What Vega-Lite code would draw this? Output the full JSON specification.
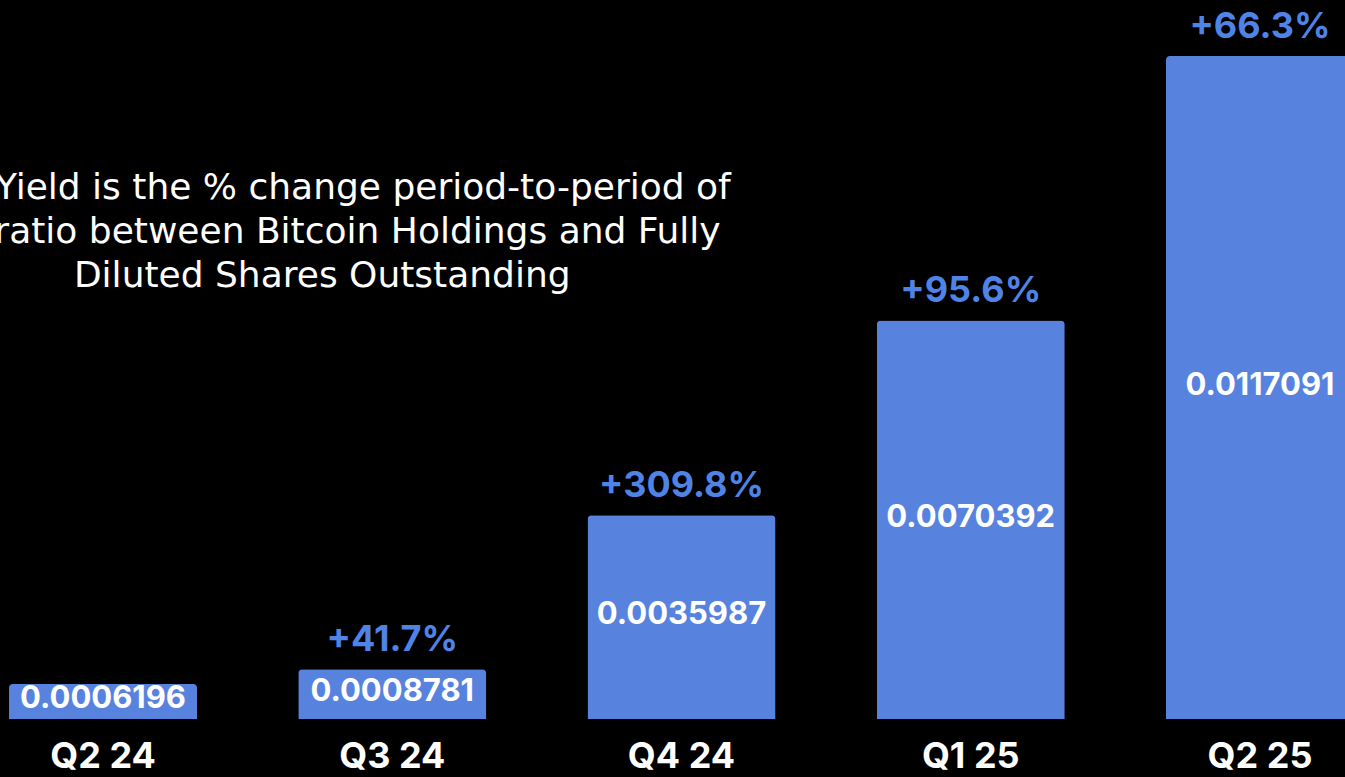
{
  "$schema": "https://vega.github.io/schema/vega-lite/v6.json",
  "width": 1345,
  "height": 719,
  "autosize": {"type": "none"},
  "padding": {"left": 0, "top": 0, "right": 0, "bottom": 58},
  "background": "#000000",
  "config": {"view": {"stroke": null}, "font": "Inter"},
  "data": {"values": [
    {"quarter": "Q2 24", "value": 0.0006196, "change": null},
    {"quarter": "Q3 24", "value": 0.0008781, "change": 0.417},
    {"quarter": "Q4 24", "value": 0.0035987, "change": 3.098},
    {"quarter": "Q1 25", "value": 0.0070392, "change": 0.956},
    {"quarter": "Q2 25", "value": 0.0117091, "change": 0.663}
  ]},
  "encoding": {
    "x": {
      "field": "quarter", "type": "nominal", "sort": null,
      "scale": {"range": [-41.6, 1404.6], "paddingInner": 0.35, "paddingOuter": 0.175},
      "axis": {"title": null, "domain": false, "ticks": false, "labelAngle": 0, "labelColor": "#ffffff", "labelFontSize": 36, "labelFontWeight": "bold", "labelPadding": 20, "labelFont": "Inter"}
    }
  },
  "layer": [
    {
      "mark": {"type": "bar", "color": "#5783df", "cornerRadiusTopLeft": 4, "cornerRadiusTopRight": 4},
      "encoding": {
        "y": {"field": "value", "type": "quantitative", "scale": {"domain": [0, 0.0127], "nice": false}, "axis": null}
      }
    },
    {
      "transform": [{"calculate": "datum.value / 2", "as": "mid"}],
      "mark": {"type": "text", "color": "#ffffff", "fontSize": 31, "fontWeight": "bold", "baseline": "middle", "dy": -2},
      "encoding": {
        "y": {"field": "mid", "type": "quantitative"},
        "text": {"field": "value", "type": "quantitative", "format": ".7f"}
      }
    },
    {
      "transform": [{"filter": "datum.change != null"}],
      "mark": {"type": "text", "color": "#4f83e6", "fontSize": 36, "fontWeight": "bold", "baseline": "alphabetic", "dy": -18},
      "encoding": {
        "y": {"field": "value", "type": "quantitative"},
        "text": {"field": "change", "type": "quantitative", "format": "+.1%"}
      }
    },
    {
      "data": {"values": [{"note": ["BTC Yield is the % change period-to-period of", "the ratio between Bitcoin Holdings and Fully", "Diluted Shares Outstanding"]}]},
      "mark": {"type": "text", "color": "#ffffff", "font": "DejaVu Sans", "fontSize": 36, "fontWeight": "normal", "baseline": "middle", "align": "center", "lineHeight": 44, "xOffset": -70},
      "encoding": {
        "x": {"datum": "Q3 24"},
        "y": {"datum": 0.00938},
        "text": {"field": "note"}
      }
    }
  ]
}
